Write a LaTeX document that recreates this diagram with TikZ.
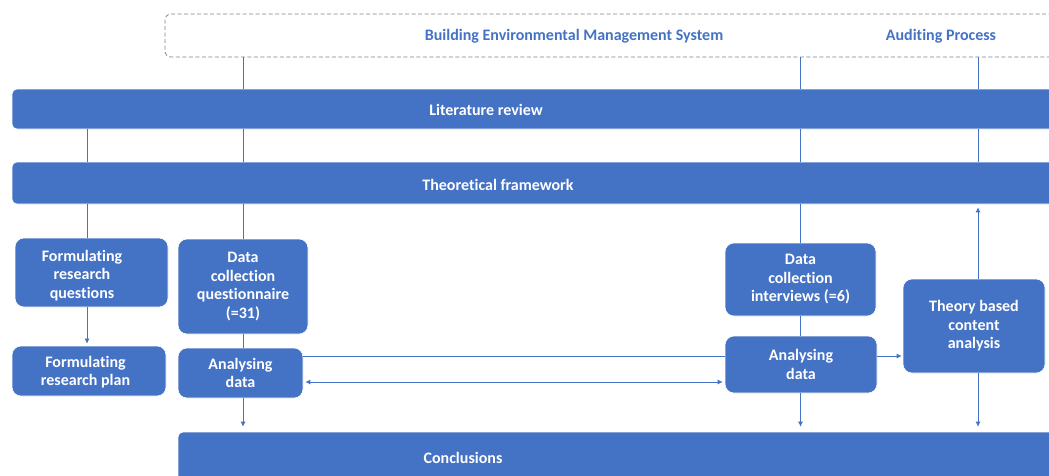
\documentclass[tikz,border=0pt]{standalone}
\usepackage{fontspec}
\setmainfont{Carlito}[Ligatures=NoCommon]
\usetikzlibrary{arrows.meta}
\definecolor{officeblue}{HTML}{4472C4}
\definecolor{framegray}{HTML}{7F8594}
\begin{document}
\begin{tikzpicture}[x=1pt,y=-1pt,
  bar/.style={fill=officeblue, draw=white, line width=0.6pt, rounded corners=5pt, inner sep=0pt},
  stepbox/.style={fill=officeblue, draw=white, line width=0.6pt, rounded corners=9pt, inner sep=0pt,
    text=white, align=center, font=\bfseries\fontsize{16}{18.5}\selectfont},
  barlabel/.style={text=white, inner sep=0pt, font=\bfseries\fontsize{16}{18.5}\selectfont},
  headlabel/.style={text=officeblue, inner sep=0pt, font=\bfseries\fontsize{16}{18.5}\selectfont},
  frame/.style={draw=framegray, line width=0.8pt, dash pattern=on 4pt off 2.5pt, rounded corners=6pt, inner sep=0pt},
  link/.style={draw=officeblue, line width=0.8pt},
  arr/.style={link, -{Latex[length=5pt,width=5pt]}}]

\clip (0,0) rectangle (1049,475);
\fill[white] (0,0) rectangle (1049,475);

% scope frame at the top
\node[frame, minimum width=900, minimum height=43] (scope) at (615,35.5) {};
\node[headlabel] (bems) at (574,36) {Building Environmental Management System};
\node[headlabel] (audit) at (941,36) {Auditing Process};

% full-width phases
\node[bar, minimum width=1053, minimum height=40] (lit) at (538.5,109) {};
\node[barlabel] (litlabel) at (486,110) {Literature review};
\node[bar, minimum width=1053, minimum height=42] (theo) at (538.5,183) {};
\node[barlabel] (theolabel) at (498,185) {Theoretical framework};
\node[bar, minimum width=887, minimum height=68] (conc) at (621.5,466) {};
\node[barlabel] (conclabel) at (463,458) {Conclusions};

% research steps
\node[stepbox, minimum width=153, minimum height=69] (frq) at (91.5,272.5) {};
\node[text=white, align=center, inner sep=0pt, font=\bfseries\fontsize{16}{18.5}\selectfont]
  (frqlabel) at (82,275.5) {Formulating\\research\\questions};
\node[stepbox, minimum width=154, minimum height=50] (frp) at (89,371) {};
\node[text=white, align=center, inner sep=0pt, font=\bfseries\fontsize{16}{18.5}\selectfont]
  (frplabel) at (85.5,372) {Formulating\\research plan};
\node[stepbox, minimum width=130, minimum height=95] (dcq) at (243,286.5) {Data\\collection\\questionnaire\\(=31)};
\node[stepbox, minimum width=125, minimum height=50] (adl) at (240.5,373) {Analysing\\data};
\node[stepbox, minimum width=151, minimum height=73] (dci) at (800.5,279.5) {Data\\collection\\interviews (=6)};
\node[stepbox, minimum width=152, minimum height=57] (adr) at (801,364.5) {Analysing\\data};
\node[stepbox, minimum width=142, minimum height=94] (tbca) at (974,326) {Theory based\\content\\analysis};

% columns of the vertical links
\coordinate (colq) at (87,0);
\coordinate (cola) at (978,0);

% scope frame down to the literature review
\draw[link] (scope.south -| dcq.north) -- (lit.north -| dcq.north);
\draw[link] (scope.south -| dci.north) -- (lit.north -| dci.north);
\draw[link] (scope.south -| cola) -- (lit.north -| cola);

% literature review down to the framework
\draw[link] (lit.south -| colq) -- (theo.north -| colq);
\draw[link] (lit.south -| dcq.north) -- (theo.north -| dcq.north);
\draw[link] (lit.south -| dci.north) -- (theo.north -| dci.north);
\draw[link] (lit.south -| cola) -- (theo.north -| cola);

% framework down to the steps
\draw[link] (theo.south -| colq) -- (frq.north -| colq);
\draw[link] (theo.south -| dcq.north) -- (dcq.north);
\draw[link] (theo.south -| dci.north) -- (dci.north);
\draw[arr, shorten >=3pt] (tbca.north -| cola) -- (theo.south -| cola);

% step chains
\draw[arr, shorten >=2pt] (frq.south -| colq) -- (frp.north -| colq);
\draw[link] (dcq.south) -- (dcq.south |- adl.north);
\draw[link] (dci.south) -- (dci.south |- adr.north);

% between the two analyses
\draw[link] ([yshift=17pt]adl.east) -- ([yshift=17pt]adl.east -| adr.west);
\draw[arr, {Latex[length=5pt,width=5pt]}-{Latex[length=5pt,width=5pt]}, shorten <=2pt, shorten >=2pt]
  ([yshift=-9pt]adl.east) -- ([yshift=-9pt]adl.east -| adr.west);
\draw[arr, shorten >=1pt] ([yshift=8.5pt]adr.east) -- ([yshift=8.5pt]adr.east -| tbca.west);

% into the conclusions
\draw[arr, shorten >=5pt] (adl.south -| dcq.north) -- (conc.north -| dcq.north);
\draw[arr, shorten >=5pt] (adr.south -| dci.north) -- (conc.north -| dci.north);
\draw[arr, shorten >=5pt] (tbca.south -| cola) -- (conc.north -| cola);
\end{tikzpicture}
\end{document}
